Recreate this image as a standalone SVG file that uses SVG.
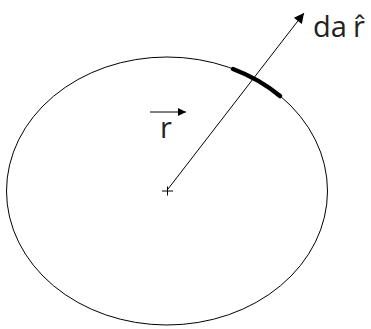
<svg xmlns="http://www.w3.org/2000/svg" width="371" height="329" viewBox="0 0 371 329">
<defs>
<style>
.ln{fill:none;stroke:#000;stroke-width:1}
.lbl{font-family:"Open Sans","Liberation Sans",sans-serif;font-size:29px;fill:#222}
</style>
<marker id="ah" viewBox="0 0 10 10" refX="10" refY="5" markerWidth="17" markerHeight="10" markerUnits="userSpaceOnUse" orient="auto">
<path d="M0,0 L10,5 L0,10 z" fill="#000"/>
</marker>
<marker id="ah2" viewBox="0 0 10 10" refX="10" refY="5" markerWidth="11" markerHeight="8" markerUnits="userSpaceOnUse" orient="auto">
<path d="M0,0 L10,5 L0,10 z" fill="#000"/>
</marker>
</defs>
<rect width="371" height="329" fill="#fff"/>
<g id="sphere">
<ellipse class="ln" cx="167" cy="191" rx="160.5" ry="134" stroke="#222"/>
</g>
<g id="patch">
<path d="M233,69 A160.5,134 0 0 1 280,96" fill="none" stroke="#000" stroke-width="4.5" stroke-linecap="round"/>
</g>
<g id="center">
<path class="ln" d="M162,191 H173 M167.5,186.5 V195.5"/>
</g>
<g id="connectors">
<path class="ln" d="M168,189 L304,13" marker-end="url(#ah)"/>
<path class="ln" d="M150,112 L186,112" marker-end="url(#ah2)"/>
</g>
<g id="labels">
<text class="lbl" x="313" y="37">da</text>
<text class="lbl" x="353" y="37">r̂</text>
<text class="lbl" x="160" y="138">r</text>
</g>
</svg>
